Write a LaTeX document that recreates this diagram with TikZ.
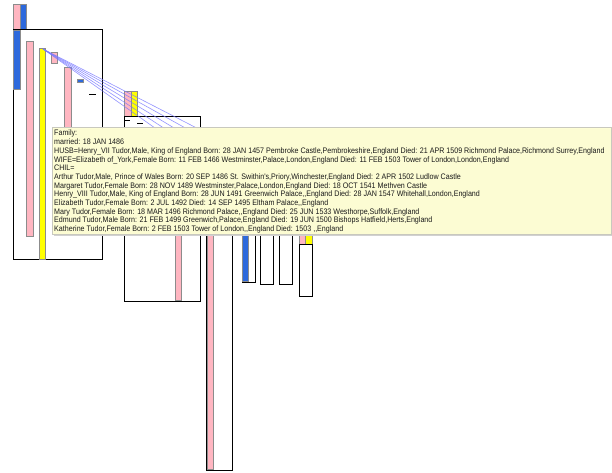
\documentclass[tikz,border=0pt]{standalone}
\usepackage{fontspec}
\setmainfont{Liberation Sans}
\newfontfamily\tipfont[FakeStretch=0.89]{Liberation Sans}
\definecolor{barpink}{RGB}{255,182,193}
\definecolor{barblue}{RGB}{45,105,220}
\definecolor{baryellow}{RGB}{255,255,0}
\definecolor{tipfill}{RGB}{254,254,212}
\definecolor{tipedge}{RGB}{200,200,190}
\definecolor{linkblue}{RGB}{120,120,255}
\tikzset{
  outline/.style={draw=black, line width=0.9pt},
  pinkbar/.style={fill=barpink, draw=black!45, line width=0.6pt},
  bluebar/.style={fill=barblue, draw=black!45, line width=0.6pt},
  yellowbar/.style={fill=baryellow, draw=black!45, line width=0.6pt},
  link/.style={draw=linkblue, line width=0.6pt, opacity=0.8},
  tipline/.style={anchor=base west, inner sep=0pt, text=black!90, font=\tipfont\fontsize{8}{8.67}\selectfont},
}
\begin{document}
\begin{tikzpicture}[x=1pt,y=-1pt]
\useasboundingbox (0,0) rectangle (612,473);
\fill[white] (0,0) rectangle (612,473);
% top-left parents
\draw[pinkbar] (13,4) rectangle (20,29);
\draw[bluebar] (20,4) rectangle (26,29);
% large family box
\draw[outline] (13,29) rectangle (102,259);
\draw[bluebar] (13,30) rectangle (20,89);
\draw[pinkbar] (26,41) rectangle (33,236);
\draw[yellowbar] (39,48) rectangle (45,259);
\draw[pinkbar] (51,52) rectangle (57,63);
\draw[pinkbar] (64,67) rectangle (71,200);
\draw[bluebar] (77,79) rectangle (83,82);
\draw[black, line width=0.7pt] (89,94) -- (96,94);
% middle family
\draw[pinkbar] (124,91) rectangle (131,116);
\draw[yellowbar] (131,91) rectangle (137,116);
\draw[outline] (124,116) rectangle (200,301);
\draw[black, line width=0.7pt] (125,120) -- (130,120);
\draw[black, line width=0.7pt] (137,123) -- (143,123);
\draw[pinkbar] (175,150) rectangle (181,300);
% tall box
\draw[outline] (206,140) rectangle (232,470);
\draw[pinkbar] (207,141) rectangle (213,469);
% small boxes
\draw[outline] (242,180) rectangle (255,282);
\draw[bluebar] (242,181) rectangle (248,281);
\draw[outline] (260,180) rectangle (273,284);
\draw[outline] (279,180) rectangle (292,284);
\draw[pinkbar] (299,210) rectangle (305,244);
\draw[yellowbar] (305,210) rectangle (312,244);
\draw[outline] (299,244) rectangle (312,296);
% link lines
\coordinate (src) at (43,49);
\coordinate (e1) at (172,140);
\coordinate (e2) at (182,140);
\coordinate (e3) at (194,140);
\coordinate (e4) at (207,140);
\coordinate (e5) at (220,140);
\foreach \e in {e1,e2,e3,e4,e5} \draw[link] (src) -- (\e);
% tooltip
\fill[black!18] (54,129) rectangle (613,236);
\draw[fill=tipfill, draw=tipedge, line width=0.5pt, fill opacity=0.96] (52,127) rectangle (611,234);
\node[tipline] (t1) at (54,136) {Family:};
\node[tipline] (t2) at (54,144.67) {married: 18 JAN 1486};
\node[tipline] (t3) at (54,153.33) {HUSB=Henry\_VII Tudor,Male, King of England Born: 28 JAN 1457 Pembroke Castle,Pembrokeshire,England Died: 21 APR 1509 Richmond Palace,Richmond Surrey,England};
\node[tipline] (t4) at (54,162) {WIFE=Elizabeth of\_York,Female Born: 11 FEB 1466 Westminster,Palace,London,England Died: 11 FEB 1503 Tower of London,London,England};
\node[tipline] (t5) at (54,170.67) {CHIL=};
\node[tipline] (t6) at (54,179.33) {Arthur Tudor,Male, Prince of Wales Born: 20 SEP 1486 St. Swithin's,Priory,Winchester,England Died: 2 APR 1502 Ludlow Castle};
\node[tipline] (t7) at (54,188) {Margaret Tudor,Female Born: 28 NOV 1489 Westminster,Palace,London,England Died: 18 OCT 1541 Methven Castle};
\node[tipline] (t8) at (54,196.67) {Henry\_VIII Tudor,Male, King of England Born: 28 JUN 1491 Greenwich Palace,,England Died: 28 JAN 1547 Whitehall,London,England};
\node[tipline] (t9) at (54,205.33) {Elizabeth Tudor,Female Born: 2 JUL 1492 Died: 14 SEP 1495 Eltham Palace,,England};
\node[tipline] (t10) at (54,214) {Mary Tudor,Female Born: 18 MAR 1496 Richmond Palace,,England Died: 25 JUN 1533 Westhorpe,Suffolk,England};
\node[tipline] (t11) at (54,222.67) {Edmund Tudor,Male Born: 21 FEB 1499 Greenwich,Palace,England Died: 19 JUN 1500 Bishops Hatfield,Herts,England};
\node[tipline] (t12) at (54,231.33) {Katherine Tudor,Female Born: 2 FEB 1503 Tower of London,,England Died: 1503 ,,England};
\end{tikzpicture}
\end{document}
